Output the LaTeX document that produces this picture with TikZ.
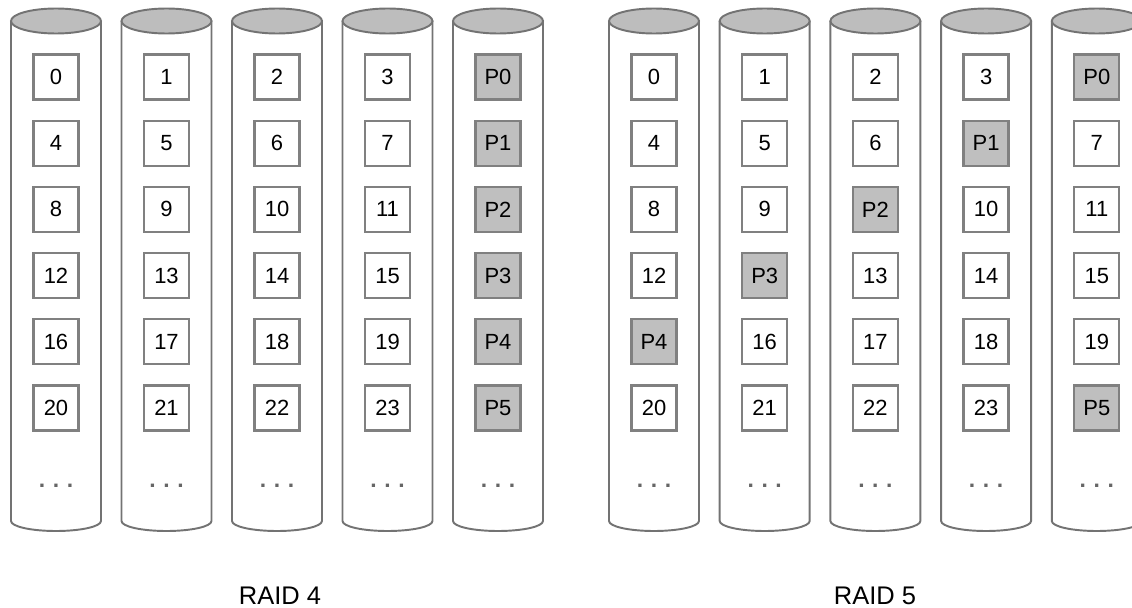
\documentclass[tikz,border=0pt]{standalone}
\usepackage{fontspec}
\setmainfont{Liberation Sans}
\usepackage{tikz}
\usetikzlibrary{calc}

\tikzset{
  diskline/.style={draw=black!55, line width=1.1pt},
  disktop/.style={diskline, fill=black!26},
  blk/.style={draw=black!50, line width=1.3pt, fill=white, minimum width=0.9cm, minimum height=0.9cm, inner sep=0pt, font=\fontsize{12.5}{14}\selectfont},
  parity/.style={blk, fill=black!25},
  dots/.style={text=black!60, font=\bfseries\fontsize{13}{14}\selectfont},
  raidlabel/.style={font=\fontsize{14.5}{16}\selectfont},
}

\begin{document}
\begin{tikzpicture}[x=0.02cm, y=-0.02cm]
\clip (0,0) rectangle (1132,608);

% the disks
\foreach \cx in {56,166.5,277,387.5,498,654,764.7,875.4,986.1,1096.8}{
  \draw[diskline] (\cx-45,21) -- (\cx-45,521)
      arc[start angle=180, end angle=360, x radius=0.9cm, y radius=0.2cm] -- (\cx+45,21);
  \draw[disktop] (\cx,21) ellipse [x radius=0.9cm, y radius=0.25cm];
  \node[dots] (d\cx) at (\cx,486) {.\,\,.\,\,.};
}

% RAID 4: parity on the last disk
\foreach \r in {0,...,5}
  \foreach \i in {0,...,4}{
    \pgfmathsetmacro\cx{56 + 110.5*\i}
    \pgfmathsetmacro\cy{77 + 66.2*\r}
    \pgfmathtruncatemacro\n{4*\r + \i}
    \ifnum\i=4
      \node[parity] (a\r\i) at (\cx,\cy) {P\r};
    \else
      \node[blk] (a\r\i) at (\cx,\cy) {\n};
    \fi
  }

% RAID 5: parity rotates
\foreach \r in {0,...,5}
  \foreach \i in {0,...,4}{
    \pgfmathsetmacro\cx{654 + 110.7*\i}
    \pgfmathsetmacro\cy{77 + 66.2*\r}
    \pgfmathtruncatemacro\p{mod(9 - \r, 5)}
    \pgfmathtruncatemacro\n{4*\r + \i - (\i > \p)}
    \ifnum\i=\p
      \node[parity] (b\r\i) at (\cx,\cy) {P\r};
    \else
      \node[blk] (b\r\i) at (\cx,\cy) {\n};
    \fi
  }

\node[raidlabel] (raid4) at (280,596) {RAID 4};
\node[raidlabel] (raid5) at (875,596) {RAID 5};
\end{tikzpicture}
\end{document}
